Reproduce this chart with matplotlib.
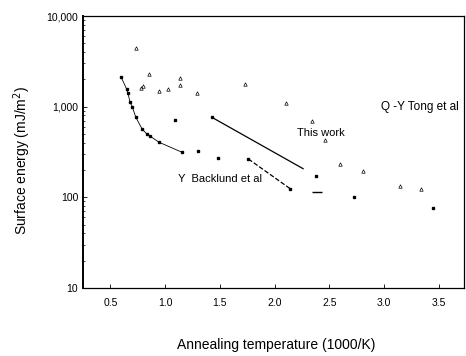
import matplotlib
matplotlib.use("Agg")
import matplotlib.pyplot as plt
from matplotlib.ticker import FixedLocator, LogLocator, NullFormatter

plt.rcParams['font.family'] = ['Liberation Sans', 'DejaVu Sans']

# Y. Backlund et al - dots joined by a curve
backlund_x = [0.60, 0.65, 0.66, 0.68, 0.70, 0.733, 0.79, 0.833, 0.864, 0.945, 1.15]
backlund_y = [2100, 1550, 1420, 1120, 1000, 762, 567, 500, 472, 405, 316]
# Backlund, dashed segment
backlund2_x = [1.76, 2.14]
backlund2_y = [265, 125]
# loose dots
dots_x = [1.088, 1.30, 1.485, 2.38, 2.727, 3.45]
dots_y = [718, 324, 275, 173, 100, 76]
# Q.-Y. Tong et al - small triangles
tong_x = [0.736, 0.80, 0.78, 0.855, 0.945, 1.03, 1.14, 1.14, 1.29, 1.727, 2.10, 2.34, 2.46, 2.60, 2.81, 3.14, 3.34]
tong_y = [4400, 1690, 1620, 2320, 1490, 1550, 2050, 1750, 1400, 1760, 1110, 700, 424, 234, 194, 134, 125]
# this work - fitted line
work_x = [1.43, 2.26]
work_y = [760, 207]
dash_x = [2.39]
dash_y = [115]

xticks = [0.5, 1.0, 1.5, 2.0, 2.5, 3.0, 3.5]
xlabels = ["0.5", "1.0", "1.5", "2.0", "2.5", "3.0", "3.5"]
yticks = [10, 100, 1000, 10000]
ylabels = ["10", "100", "1,000", "10,000"]

fig = plt.figure(figsize=(4.66, 3.56), dpi=100)
ax = fig.add_axes([0.178, 0.191, 0.818, 0.764])

ax.plot(backlund_x, backlund_y, '-', color='k', lw=0.6, marker='s', ms=1.8)
ax.plot(backlund2_x, backlund2_y, '--', color='k', lw=0.9, marker='s', ms=1.8)
ax.plot(dots_x, dots_y, 's', color='k', ms=1.8)
ax.plot(tong_x, tong_y, '^', color='k', ms=2.5, mfc='none', mew=0.5)
ax.plot(work_x, work_y, '-', color='k', lw=0.9)
ax.plot(work_x[:1], work_y[:1], 's', color='k', ms=1.8)
ax.plot(dash_x, dash_y, '_', color='k', ms=7, mew=1.0)

ax.set_yscale('log')
ax.set_xlim(0.25, 3.73)
ax.set_ylim(10, 10000)

ax.xaxis.set_major_locator(FixedLocator(xticks))
ax.set_xticklabels(xlabels)
ax.yaxis.set_major_locator(FixedLocator(yticks))
ax.set_yticklabels(ylabels)
ax.yaxis.set_minor_locator(LogLocator(base=10, subs=range(2, 10)))
ax.yaxis.set_minor_formatter(NullFormatter())
ax.tick_params(direction='in', labelsize=7.5, length=3, width=0.6)
ax.tick_params(which='minor', direction='in', length=1.5, width=0.5)
ax.tick_params(axis='x', pad=7)
ax.spines['left'].set_linewidth(1.4)
for s in ['top', 'right', 'bottom']:
    ax.spines[s].set_linewidth(0.9)

ax.text(2.97, 1000, "Q -Y Tong et al", fontsize=8.5, va='center')
ax.text(2.20, 510, "This work", fontsize=8, va='center')
ax.text(1.12, 158, "Y  Backlund et al", fontsize=8, va='center')

fig.text(0.592, 0.031, "Annealing temperature (1000/K)", fontsize=10, ha='center', va='center')
fig.text(0.047, 0.55, "Surface energy (mJ/m$^2$)", fontsize=10, rotation=90, ha='center', va='center')

fig.savefig("out.png", dpi=100)
